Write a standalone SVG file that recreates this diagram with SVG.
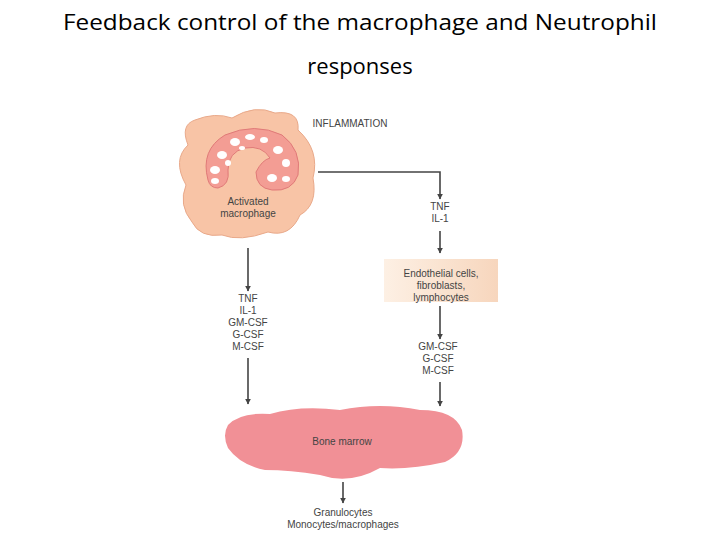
<svg xmlns="http://www.w3.org/2000/svg" width="720" height="540" viewBox="0 0 720 540">
<style>
.t{font-family:"Liberation Sans",Arial,sans-serif;font-size:10px;fill:#444;text-anchor:middle}
.h{font-family:"Open Sans","Liberation Sans",sans-serif;font-size:22px;fill:#000;text-anchor:middle}
.c{stroke:#444;stroke-width:1.6;fill:none;marker-end:url(#a)}
</style>
<defs>
<marker id="a" viewBox="0 0 10 10" refX="9" refY="5" markerWidth="6" markerHeight="7" orient="auto" markerUnits="userSpaceOnUse"><path d="M0,0 L10,5 L0,10 Z" fill="#444"/></marker>
<linearGradient id="g" x1="0" x2="1"><stop offset="0" stop-color="#fdf0e4"/><stop offset="1" stop-color="#f7d6bd"/></linearGradient>
</defs>
<rect width="720" height="540" fill="#fff"/>
<text class="h" x="360" y="30" textLength="594" lengthAdjust="spacingAndGlyphs">Feedback control of the macrophage and Neutrophil</text>
<text class="h" x="360" y="74">responses</text>
<text class="t" x="350" y="127">INFLAMMATION</text>
<g id="macrophage">
<path d="M195,120 Q215,112 232,118 Q255,104 275,113 Q300,110 298,130 Q320,150 313,178 Q318,205 300,215 Q290,238 268,232 Q240,242 222,235 Q200,238 192,222 Q178,205 186,185 Q172,160 188,145 Q180,125 195,120 Z" fill="#f8c4a6" stroke="#e9a98a" stroke-width="1"/>
<path d="M208,180 Q200,150 225,135 Q255,122 282,135 Q302,150 298,175 Q292,192 272,190 Q256,188 256,172 Q262,160 270,158 Q262,145 245,148 Q228,152 228,170 Q230,185 218,188 Q210,188 208,180 Z" fill="#f39d94" stroke="#e07a78" stroke-width="1"/>
<g fill="#fff"><ellipse cx="215" cy="170" rx="5" ry="4"/><ellipse cx="222" cy="155" rx="5" ry="4"/><ellipse cx="235" cy="142" rx="5" ry="4"/><ellipse cx="250" cy="137" rx="5" ry="3"/><ellipse cx="264" cy="140" rx="4" ry="3"/><ellipse cx="278" cy="150" rx="5" ry="4"/><ellipse cx="286" cy="163" rx="4" ry="4"/><ellipse cx="272" cy="178" rx="5" ry="4"/><ellipse cx="286" cy="179" rx="4" ry="3"/><ellipse cx="215" cy="181" rx="4" ry="3"/><ellipse cx="228" cy="163" rx="3" ry="3"/><ellipse cx="242" cy="148" rx="3" ry="2"/></g>
<text class="t" x="248" y="205">Activated</text>
<text class="t" x="248" y="217">macrophage</text>
</g>
<g id="tnf1"><text class="t" x="440" y="210">TNF</text><text class="t" x="440" y="222">IL-1</text></g>
<g id="cells">
<rect x="384" y="259" width="114" height="43" fill="url(#g)"/>
<text class="t" x="441" y="277">Endothelial cells,</text>
<text class="t" x="441" y="289">fibroblasts,</text>
<text class="t" x="441" y="301">lymphocytes</text>
</g>
<g id="csf2"><text class="t" x="438" y="350">GM-CSF</text><text class="t" x="438" y="362">G-CSF</text><text class="t" x="438" y="374">M-CSF</text></g>
<g id="cyto1"><text class="t" x="248" y="302">TNF</text><text class="t" x="248" y="314">IL-1</text><text class="t" x="248" y="326">GM-CSF</text><text class="t" x="248" y="338">G-CSF</text><text class="t" x="248" y="350">M-CSF</text></g>
<g id="marrow">
<path d="M228,425 Q240,412 270,414 Q300,405 340,410 Q380,402 420,410 Q455,410 462,430 Q466,452 445,462 Q410,470 380,468 Q350,485 320,475 Q290,470 265,470 Q240,465 228,448 Q222,435 228,425 Z" fill="#f19096"/>
<text class="t" x="342" y="445">Bone marrow</text>
</g>
<g id="out"><text class="t" x="343" y="516">Granulocytes</text><text class="t" x="343" y="528">Monocytes/macrophages</text></g>
<g id="connectors">
<path class="c" d="M318,172 H440 V199"/>
<path class="c" d="M440,231 V253"/>
<path class="c" d="M440,306 V339"/>
<path class="c" d="M440,382 V406"/>
<path class="c" d="M248,248 V291"/>
<path class="c" d="M248,358 V404"/>
<path class="c" d="M343,482 V503"/>
</g>
</svg>
